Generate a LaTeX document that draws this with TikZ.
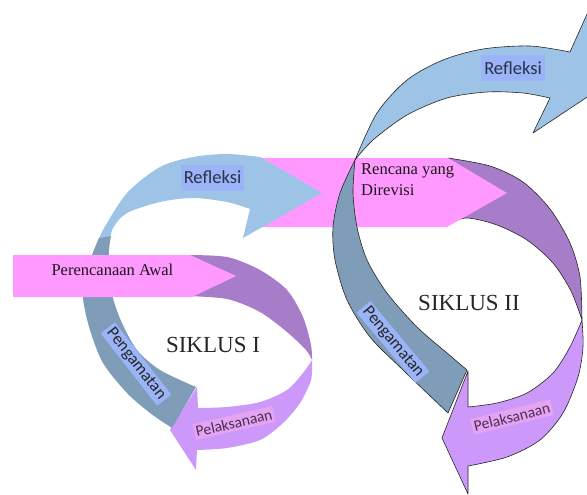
\documentclass[tikz,border=0pt]{standalone}
\usepackage{fontspec}
\setmainfont{Liberation Serif}
\newfontfamily\labfont{Carlito}
\definecolor{pinkA}{HTML}{FF99FF}
\definecolor{purpD}{HTML}{A77DC9}
\definecolor{purpL}{HTML}{CC99FA}
\definecolor{blueL}{HTML}{9DC3E6}
\definecolor{blueS}{HTML}{7F9DB8}
\definecolor{labB}{HTML}{9BB4F7}
\definecolor{labP}{HTML}{E5A3F3}
\definecolor{txtB}{HTML}{263349}
\definecolor{txtP}{HTML}{4B3050}
\begin{document}
\begin{tikzpicture}[x=1pt,y=-1pt,
  outl/.style={draw=black!85,line width=0.6pt,line join=round},
  lblB/.style={fill=labB,text=txtB,font=\labfont\fontsize{18.5}{18.5}\selectfont,inner xsep=3pt,inner ysep=1pt,minimum height=26pt},
  lblG/.style={fill=labB,text=black!85,font=\labfont\fontsize{17}{17}\selectfont,inner xsep=3pt,inner ysep=0pt,minimum height=18pt},
  lblP/.style={fill=labP,text=txtP,font=\labfont\fontsize{15.5}{15.5}\selectfont,inner xsep=2pt,inner ysep=0pt,minimum height=16pt},
  serifbig/.style={font=\fontsize{23}{23}\selectfont,text=black!85},
  serifmid/.style={font=\fontsize{16.5}{21}\selectfont,text=black!90}
]
\useasboundingbox (0,0) rectangle (587,495);
\begin{scope}
\clip (0,0) rectangle (587,495);
% ---- cycle I purple ----
\fill[purpD] plot[smooth] coordinates {(185,255) (227,257) (260,270) (287,290) (303,317) (311,345) (312,360)}
  -- plot[smooth] coordinates {(312,360) (306,350) (287,332) (260,312) (227,299) (185,296)} -- cycle;
\fill[purpL] plot[smooth] coordinates {(312,360) (311,380) (300,403) (283,423) (260,440) (227,448) (197,450)}
  -- (196,470) -- (170,430) -- (197,387)
  -- plot[smooth] coordinates {(198,408) (227,407) (260,402) (287,390) (303,373) (312,360)} -- cycle;
% ---- cycle II purple ----
\filldraw[purpD,outl] plot[smooth] coordinates {(448,158) (490,166) (523,182) (550,209) (570,243) (580,277) (582,320)}
  -- plot[smooth] coordinates {(582,320) (571,291) (553,263) (527,240) (497,225) (467,218) (448,224)} -- cycle;
\filldraw[purpL,outl] plot[smooth] coordinates {(582,320) (583,347) (578,377) (563,413) (540,440) (507,457) (468,466)}
  -- (468,494) -- (442,438) -- (468,371)
  -- plot[smooth] coordinates {(468,407) (497,403) (527,393) (553,373) (570,347) (582,320)} -- cycle;
% ---- pink Rencana yang Direvisi ----
\fill[pinkA] (260,158) -- (448,158) -- (507,193) -- (447,227) -- (260,227) -- cycle;
% ---- cycle I blue band ----
\fill[blueL] plot[smooth] coordinates {(97,245) (103,230) (127,193) (160,167) (193,157) (227,154) (260,157)}
  -- (322,193) -- (243,238)
  -- plot[smooth] coordinates {(250,209) (227,202) (193,198) (160,202) (127,213) (113,228) (109,245)} -- cycle;
\fill[blueS] plot[smooth] coordinates {(99,238) (92,255) (86,275) (83,298) (90,330) (103,363) (127,393) (150,413) (172,428)}
  -- (196,387)
  -- plot[smooth] coordinates {(196,387) (160,370) (137,350) (122,323) (113,298) (109,270) (109,250) (111,236)} -- cycle;
% ---- pink Perencanaan Awal ----
\fill[pinkA] (13,255) -- (190,255) -- (236,276) -- (192,297) -- (13,297) -- cycle;
% ---- cycle II blue band ----
\filldraw[blueS,outl] plot[smooth] coordinates {(355,160) (340,193) (333,227) (335,260) (347,300) (370,337) (403,370) (448,413)}
  -- (467,370)
  -- plot[smooth] coordinates {(467,370) (447,353) (417,327) (387,293) (367,260) (357,227) (353,193) (355,160)} -- cycle;
\filldraw[blueL,outl] plot[smooth] coordinates {(355,160) (377,113) (407,80) (443,60) (483,49) (530,46) (570,52)}
  -- (592,3) -- (640,62) -- (533,133)
  -- plot[smooth] coordinates {(550,98) (523,93) (487,92) (447,98) (407,115) (373,140) (355,160)} -- cycle;
\end{scope}
% ---- labels ----
\node[lblB] (refI) at (212.5,177.5) {Refleksi};
\node[lblB] (refII) at (513,68.5) {Refleksi};
\node[lblG,rotate=-52] (pengI) at (136,364) {Pengamatan};
\node[lblG,rotate=-50] (pengII) at (393,342) {Pengamatan};
\node[lblP,rotate=13] (pelI) at (234,423) {Pelaksanaan};
\node[lblP,rotate=14] (pelII) at (512,417) {Pelaksanaan};
% ---- texts ----
\node[serifmid,anchor=west] (awal) at (48,270) {Perencanaan Awal};
\node[serifmid,anchor=north west,align=left,inner sep=0pt] (revisi) at (361,163) {Rencana yang\\Direvisi};
\node[serifbig] (s1) at (213,345) {SIKLUS I};
\node[serifbig] (s2) at (469,303) {SIKLUS II};
\end{tikzpicture}
\end{document}
